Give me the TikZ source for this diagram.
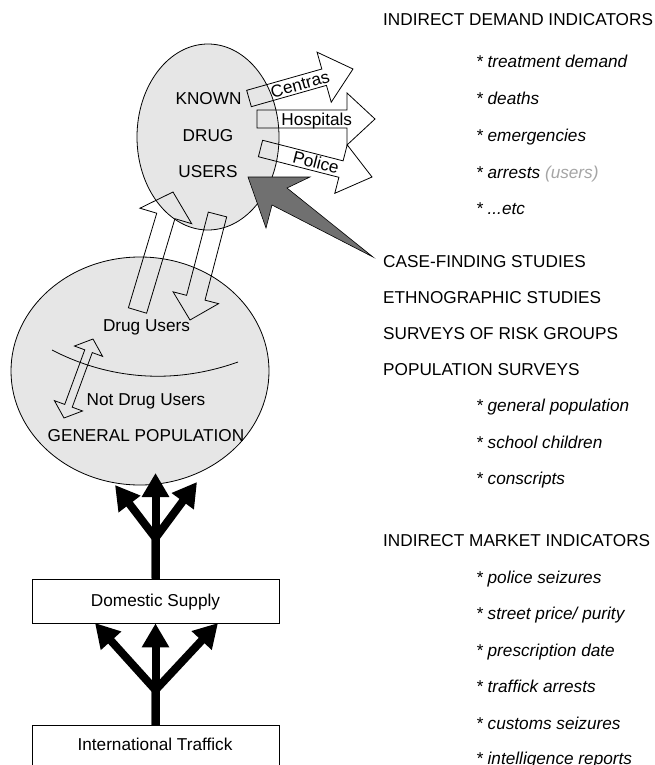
\documentclass[tikz,border=0pt]{standalone}
\usepackage{fontspec}
\setmainfont{Liberation Sans}
\usetikzlibrary{calc,arrows.meta,shapes.geometric}
\definecolor{ellfill}{RGB}{230,230,230}
\definecolor{darkarr}{RGB}{112,112,112}
\definecolor{usersgray}{RGB}{165,165,165}
\tikzset{
  ell/.style={draw=black, line width=0.8pt, fill=ellfill, ellipse, inner sep=0pt},
  arrowline/.style={draw=black, line width=0.8pt, line join=miter},
  txt/.style={inner sep=0pt, anchor=base west, font=\fontsize{17.2}{20}\selectfont},
  itxt/.style={inner sep=0pt, anchor=base west, font=\fontsize{17.2}{20}\selectfont\itshape},
  ctxt/.style={inner sep=0pt, anchor=base, font=\fontsize{17.2}{20}\selectfont},
  albl/.style={inner sep=0pt, anchor=center, text height=12.3pt, text depth=0pt, font=\fontsize{17.2}{20}\selectfont},
  fork/.style={line width=8pt, -{Triangle[length=24pt,width=26pt]}},
  box/.style={draw=black, line width=0.8pt, fill=white, inner sep=0pt},
  darkarrow/.style={draw=black, line width=0.6pt, fill=darkarr},
}
% block arrow: tail, tip, shaft half width, head half width, head length
\newcommand{\blockarr}[5]{%
  \coordinate (ba-base) at ($(#2)!#5!(#1)$);
  \draw[arrowline] ($(#1)!#3!90:(#2)$) -- ($(ba-base)!#3!90:(#2)$) -- ($(ba-base)!#4!90:(#2)$) -- (#2)
    -- ($(ba-base)!#4!-90:(#2)$) -- ($(ba-base)!#3!-90:(#2)$) -- ($(#1)!#3!-90:(#2)$) -- cycle;}
% double arrow: end A, end B, shaft half width, head half width, head length
\newcommand{\dblarr}[5]{%
  \coordinate (da-a) at ($(#1)!#5!(#2)$);
  \coordinate (da-b) at ($(#2)!#5!(#1)$);
  \draw[arrowline] (#1) -- ($(da-a)!#4!90:(#2)$) -- ($(da-a)!#3!90:(#2)$) -- ($(da-b)!#3!-90:(#1)$)
    -- ($(da-b)!#4!-90:(#1)$) -- (#2) -- ($(da-b)!#4!90:(#1)$) -- ($(da-b)!#3!90:(#1)$)
    -- ($(da-a)!#3!-90:(#2)$) -- ($(da-a)!#4!-90:(#2)$) -- cycle;}
\begin{document}
\begin{tikzpicture}[x=1pt,y=-1pt]
\useasboundingbox (0,0) rectangle (654,765);
\clip (0,0) rectangle (654,765);

% ellipses
\node[ell, minimum width=142pt, minimum height=186pt] (known) at (208,137) {};
\node[ell, minimum width=258pt, minimum height=228pt] (genpop) at (140,371) {};

% dividing curve
\coordinate (cv1) at (52,350);
\coordinate (cv2) at (238,362);
\draw[line width=0.8pt] (cv1) .. controls (100,375) and (165,388) .. (cv2);

% texts in ellipses
\node[ctxt] (tknown) at (208.5,105) {KNOWN};
\node[ctxt] (tdrug) at (208,141.7) {DRUG};
\node[ctxt] (tusers) at (208,177.7) {USERS};
\node[ctxt] (tdu) at (146.5,331.7) {Drug Users};
\node[ctxt] (tndu) at (146,405) {Not Drug Users};
\node[ctxt] (tgp) at (146,441) {GENERAL POPULATION};

% outgoing hollow arrows
\coordinate (cen-t) at (249,98.5);  \coordinate (cen-h) at (353,69);
\coordinate (hos-t) at (257,119);   \coordinate (hos-h) at (375,119);
\coordinate (pol-t) at (260.5,148.5); \coordinate (pol-h) at (372,177);
\blockarr{cen-t}{cen-h}{8.5pt}{26pt}{30pt}
\blockarr{hos-t}{hos-h}{9pt}{26pt}{28pt}
\blockarr{pol-t}{pol-h}{8.5pt}{25pt}{32pt}
\node[albl, rotate=15.8] (lcen) at (300,84) {Centras};
\node[albl] (lhos) at (316.7,119) {Hospitals};
\node[albl, rotate=-14.3] (lpol) at (316,162.5) {Police};

% arrows between ellipses
\coordinate (up-t) at (137.5,310.5); \coordinate (up-h) at (173,192);
\coordinate (dn-t) at (217.5,214.5); \coordinate (dn-h) at (190,320);
\blockarr{up-t}{up-h}{9.5pt}{27pt}{25pt}
\blockarr{dn-t}{dn-h}{9.5pt}{23.5pt}{23pt}

% double arrow
\coordinate (dbl-a) at (93,339); \coordinate (dbl-b) at (64,418);
\dblarr{dbl-a}{dbl-b}{4pt}{15pt}{13pt}

% dark tapered arrow
\coordinate (dk-tip) at (248,177);
\coordinate (dk-tail) at (373,257);
\draw[darkarrow] (dk-tip) -- (310,177) -- (287,188) -- (dk-tail) -- (272,205) -- (266,228) -- cycle;

% boxes
\node[box, minimum width=247pt, minimum height=44pt] (dom) at (155.5,601) {};
\node[ctxt] (tdom) at (155.5,606.5) {Domestic Supply};
\node[box, minimum width=247pt, minimum height=70pt, anchor=north] (intl) at (155.5,725) {};
\node[ctxt] (tintl) at (155,750) {International Traffick};

% fork arrows
\coordinate (j1) at (155.5,538);
\coordinate (u-c) at (155.5,473);
\coordinate (u-l) at (115,485);
\coordinate (u-r) at (197,482);
\draw[fork] (dom.north) -- (j1) -- (u-c);
\draw[fork] (dom.north) -- (j1) -- (u-l);
\draw[fork] (dom.north) -- (j1) -- (u-r);
\coordinate (j2) at (155.5,690);
\coordinate (l-l) at (95,623);
\coordinate (l-r) at (218,623);
\draw[fork] (intl.north) -- (j2) -- (dom.south);
\draw[fork] (intl.north) -- (j2) -- (l-l);
\draw[fork] (intl.north) -- (j2) -- (l-r);

% right-hand column
\node[txt] (h1) at (383,26) {INDIRECT DEMAND INDICATORS};
\node[itxt] (d1) at (476,68) {* treatment demand};
\node[itxt] (d2) at (476,105) {* deaths};
\node[itxt] (d3) at (476,141.5) {* emergencies};
\node[itxt] (d4) at (476,178) {* arrests \textcolor{usersgray}{(users)}};
\node[itxt] (d5) at (476,214.5) {* ...etc};
\node[txt] (s1) at (383,267) {CASE-FINDING STUDIES};
\node[txt] (s2) at (383,303) {ETHNOGRAPHIC STUDIES};
\node[txt] (s3) at (383,339.5) {SURVEYS OF RISK GROUPS};
\node[txt] (s4) at (383,375) {POPULATION SURVEYS};
\node[itxt] (p1) at (476,411.5) {* general population};
\node[itxt] (p2) at (476,448) {* school children};
\node[itxt] (p3) at (476,484) {* conscripts};
\node[txt] (h2) at (383,546) {INDIRECT MARKET INDICATORS};
\node[itxt] (m1) at (476,583) {* police seizures};
\node[itxt] (m2) at (476,619.5) {* street price/ purity};
\node[itxt] (m3) at (476,656) {* prescription date};
\node[itxt] (m4) at (476,692.5) {* traffick arrests};
\node[itxt] (m5) at (476,729) {* customs seizures};
\node[itxt] (m6) at (476,764) {* intelligence reports};
\end{tikzpicture}
\end{document}
